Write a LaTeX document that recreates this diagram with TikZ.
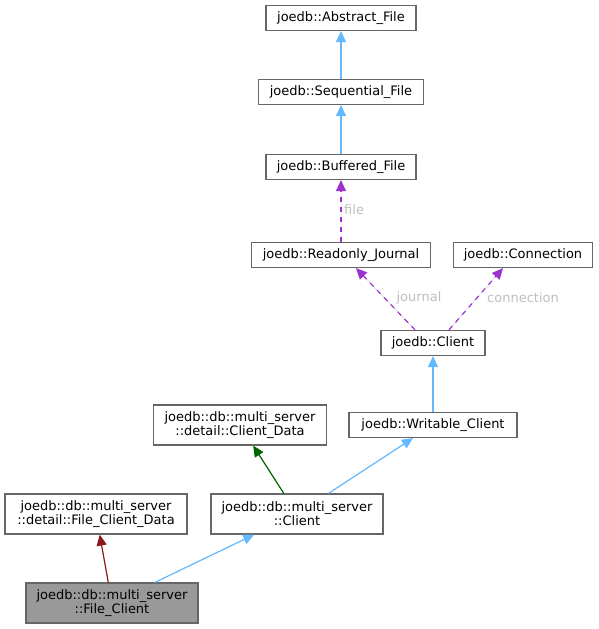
\documentclass[tikz,border=0pt]{standalone}
\usepackage{fontspec}
\setmainfont{DejaVu Sans}
\usetikzlibrary{arrows.meta}
\definecolor{boxgrey}{HTML}{666666}
\definecolor{selgrey}{HTML}{999999}
\definecolor{inhblue}{HTML}{63B8FF}
\definecolor{usepurple}{HTML}{9A32CD}
\definecolor{privred}{HTML}{8B1A1A}
\definecolor{protgreen}{HTML}{006400}
\definecolor{labelgrey}{HTML}{BEBEBE}
\begin{document}
\begin{tikzpicture}[x=1pt, y=-1pt,
		cls/.style={draw=boxgrey, fill=white, line width=1.2pt, inner sep=0pt,
			minimum height=25pt, align=center, font=\fontsize{13}{14}\selectfont},
		tip/.style={-{Triangle[length=11pt, width=10pt]}},
		inh/.style={tip, draw=inhblue, fill=inhblue, line width=1.2pt},
		priv/.style={tip, draw=privred, fill=privred, line width=1.2pt},
		prot/.style={tip, draw=protgreen, fill=protgreen, line width=1.2pt},
		usage/.style={tip, draw=usepurple, fill=usepurple, line width=1.2pt, dash pattern=on 5pt off 5pt},
		lbl/.style={text=labelgrey, inner sep=0pt, font=\fontsize{13}{14}\selectfont}]
	\useasboundingbox (0, 0) rectangle (599, 629);
	\node [cls, minimum width=150pt] (abstract) at (341, 18) {joedb::Abstract\_File};
	\node [cls, minimum width=165pt] (sequential) at (341, 92) {joedb::Sequential\_File};
	\node [cls, minimum width=150pt] (buffered) at (341, 167) {joedb::Buffered\_File};
	\node [cls, minimum width=179pt] (journal) at (341, 255) {joedb::Readonly\_Journal};
	\node [cls, minimum width=139pt] (connection) at (523, 255) {joedb::Connection};
	\node [cls, minimum width=104pt] (client) at (433, 343) {joedb::Client};
	\node [cls, minimum width=173pt, minimum height=40pt] (clientdata) at (240, 425)
		{joedb::db::multi\_server\\::detail::Client\_Data};
	\node [cls, minimum width=168pt] (writable) at (433, 425) {joedb::Writable\_Client};
	\node [cls, minimum width=182pt, minimum height=40pt] (fileclientdata) at (96, 514)
		{joedb::db::multi\_server\\::detail::File\_Client\_Data};
	\node [cls, minimum width=172pt, minimum height=40pt] (msclient) at (297, 514)
		{joedb::db::multi\_server\\::Client};
	\node [cls, fill=selgrey, minimum width=172pt, minimum height=40pt] (fileclient) at (112, 603)
		{joedb::db::multi\_server\\::File\_Client};
	\draw [inh] (sequential) -- (abstract);
	\draw [inh] (buffered) -- (sequential);
	\draw [usage] (journal) -- (buffered);
	\node [lbl, anchor=west] (filelbl) at (344, 210) {file};
	\draw [usage] ([xshift=-18pt]client.north) -- ([xshift=15pt]journal.south);
	\node [lbl] (journallbl) at (419, 298) {journal};
	\draw [usage] ([xshift=16pt]client.north) -- ([xshift=-20pt]connection.south);
	\node [lbl] (connectionlbl) at (523, 298) {connection};
	\draw [inh] (writable) -- (client);
	\draw [prot] (msclient) -- (clientdata);
	\draw [inh] (msclient) -- (writable);
	\draw [priv] (fileclient) -- (fileclientdata);
	\draw [inh] (fileclient) -- (msclient);
\end{tikzpicture}
\end{document}
